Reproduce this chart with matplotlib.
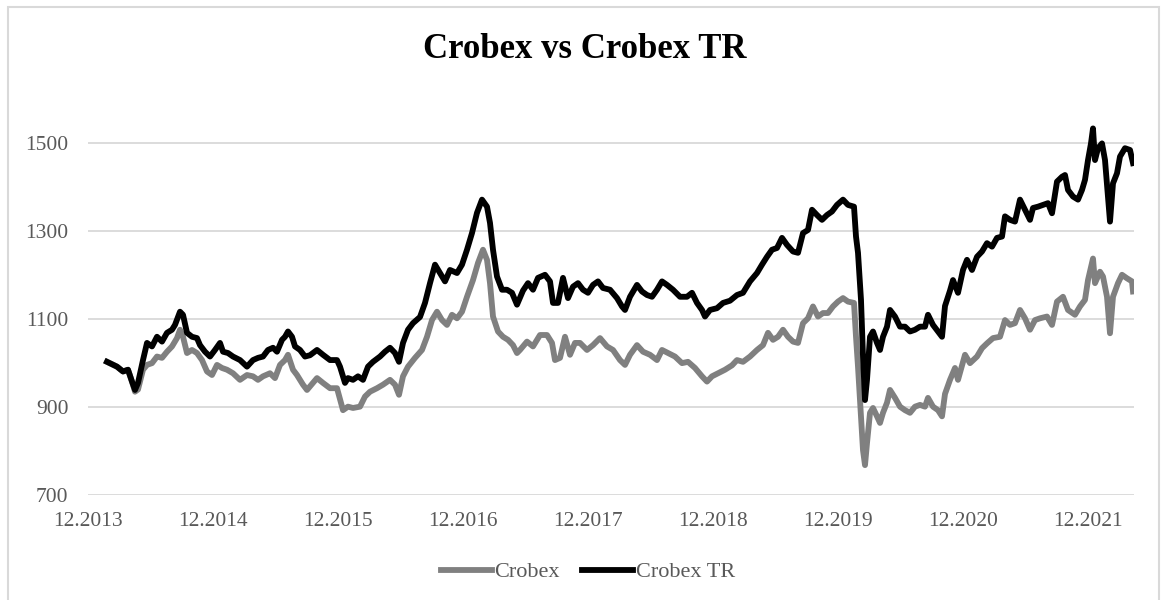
import matplotlib
matplotlib.use("Agg")
import matplotlib.pyplot as plt
from matplotlib.patches import Rectangle

plt.rcParams['font.family'] = ['Liberation Serif', 'DejaVu Serif']

# trading-day index, one label every 250 days
tick_days = [0, 250, 500, 750, 1000, 1250, 1500, 1750, 2000]
tick_labels = ['12.2013', '12.2014', '12.2015', '12.2016', '12.2017',
               '12.2018', '12.2019', '12.2020', '12.2021']

crobex_days = [38, 58, 70, 80, 88, 94, 100, 110, 118, 128, 138, 148, 158, 168, 178, 184, 190, 198, 208, 218,
               228, 238, 248, 258, 268, 278, 290, 304, 318, 330, 340, 350, 364, 374, 384, 394, 400, 410, 418, 430,
               438, 450, 458, 470, 484, 498, 510, 520, 530, 544, 554, 564, 578, 590, 604, 614, 622, 630, 640, 654,
               668, 678, 688, 698, 708, 718, 728, 738, 748, 758, 770, 780, 790, 798, 804, 810, 820, 830, 840, 850,
               858, 864, 878, 890, 904, 918, 928, 934, 944, 954, 964, 974, 984, 998, 1010, 1024, 1038, 1050, 1064, 1074,
               1084, 1098, 1110, 1124, 1138, 1148, 1160, 1174, 1188, 1200, 1214, 1228, 1238, 1248, 1260, 1274, 1288, 1298, 1310, 1324,
               1338, 1350, 1360, 1370, 1380, 1390, 1400, 1410, 1420, 1430, 1440, 1450, 1460, 1470, 1480, 1490, 1500, 1510, 1520, 1532,
               1536, 1540, 1546, 1550, 1554, 1558, 1564, 1570, 1578, 1584, 1590, 1598, 1604, 1614, 1624, 1634, 1644, 1654, 1664, 1674,
               1680, 1690, 1700, 1708, 1714, 1724, 1734, 1740, 1754, 1764, 1778, 1788, 1798, 1810, 1824, 1834, 1844, 1854, 1864, 1874,
               1884, 1894, 1904, 1918, 1928, 1938, 1950, 1960, 1974, 1984, 1994, 2000, 2010, 2014, 2024, 2030, 2038, 2044, 2050, 2060,
               2068, 2078, 2088, 2090]
crobex = [1003, 992, 981, 985, 958, 935, 940, 985, 996, 1000, 1015, 1012, 1026, 1038, 1057, 1076, 1060, 1023, 1030, 1023,
          1007, 981, 973, 996, 989, 985, 977, 962, 973, 970, 962, 970, 977, 966, 996, 1007, 1019, 985, 973, 951,
          939, 955, 966, 955, 943, 943, 893, 901, 898, 901, 924, 935, 943, 951, 962, 951, 928, 970, 992, 1012,
          1030, 1060, 1098, 1117, 1098, 1087, 1110, 1102, 1117, 1151, 1189, 1228, 1258, 1235, 1182, 1106, 1072, 1060, 1053, 1041,
          1023, 1030, 1049, 1038, 1064, 1064, 1046, 1007, 1012, 1060, 1019, 1046, 1046, 1030, 1041, 1057, 1038, 1030, 1007, 996,
          1019, 1041, 1026, 1019, 1007, 1030, 1023, 1015, 1000, 1003, 989, 970, 958, 970, 977, 985, 995, 1007, 1003, 1015,
          1030, 1041, 1069, 1053, 1060, 1076, 1060, 1049, 1046, 1091, 1102, 1129, 1106, 1114, 1114, 1129, 1140, 1148, 1140, 1137,
          1060, 992, 879, 802, 768, 818, 887, 898, 879, 864, 887, 910, 939, 921, 901, 893, 887, 901, 905, 901,
          921, 901, 893, 879, 930, 962, 989, 962, 1019, 1000, 1015, 1034, 1045, 1057, 1060, 1098, 1087, 1091, 1121, 1102,
          1076, 1098, 1102, 1106, 1087, 1140, 1151, 1121, 1110, 1129, 1144, 1189, 1238, 1182, 1208, 1197, 1151, 1068, 1151, 1182,
          1201, 1193, 1186, 1163]

tr_days = [38, 58, 70, 80, 88, 94, 100, 110, 118, 128, 138, 148, 158, 168, 174, 184, 190, 198, 208, 218,
           224, 234, 244, 254, 264, 270, 280, 290, 304, 318, 330, 340, 350, 360, 370, 378, 388, 394, 400, 408,
           414, 424, 434, 444, 458, 470, 484, 498, 504, 514, 520, 530, 540, 550, 560, 570, 584, 594, 604, 614,
           622, 630, 640, 650, 664, 674, 684, 694, 704, 714, 724, 738, 748, 758, 768, 778, 788, 798, 804, 810,
           818, 828, 838, 848, 858, 870, 880, 890, 900, 914, 924, 930, 940, 950, 960, 970, 980, 990, 1000, 1010,
           1020, 1030, 1044, 1058, 1068, 1074, 1084, 1098, 1108, 1118, 1128, 1138, 1148, 1158, 1170, 1184, 1198, 1208, 1218, 1228,
           1234, 1244, 1258, 1270, 1284, 1298, 1310, 1324, 1338, 1348, 1358, 1368, 1378, 1388, 1398, 1410, 1420, 1430, 1440, 1448,
           1458, 1468, 1478, 1488, 1498, 1510, 1520, 1532, 1536, 1540, 1546, 1550, 1554, 1558, 1564, 1570, 1578, 1584, 1590, 1598,
           1604, 1614, 1624, 1634, 1644, 1654, 1664, 1674, 1680, 1690, 1700, 1708, 1714, 1724, 1730, 1740, 1750, 1758, 1768, 1778,
           1788, 1798, 1808, 1818, 1828, 1834, 1844, 1854, 1864, 1874, 1884, 1890, 1900, 1910, 1920, 1928, 1938, 1948, 1954, 1960,
           1970, 1980, 1988, 1994, 2000, 2006, 2010, 2014, 2020, 2028, 2034, 2040, 2044, 2050, 2058, 2064, 2074, 2084, 2090]
crobex_tr = [1003, 992, 981, 985, 958, 939, 955, 1007, 1046, 1038, 1060, 1049, 1069, 1076, 1087, 1117, 1110, 1069, 1060, 1057,
             1041, 1026, 1015, 1030, 1046, 1026, 1023, 1015, 1007, 992, 1007, 1012, 1015, 1030, 1035, 1026, 1053, 1060, 1072, 1060,
             1038, 1030, 1015, 1018, 1030, 1019, 1007, 1007, 992, 955, 966, 962, 970, 962, 992, 1003, 1015, 1026, 1035, 1023,
             1003, 1046, 1076, 1091, 1105, 1137, 1182, 1224, 1205, 1186, 1212, 1205, 1224, 1258, 1296, 1342, 1372, 1356, 1319, 1258,
             1197, 1167, 1167, 1160, 1133, 1165, 1182, 1167, 1194, 1201, 1186, 1137, 1137, 1194, 1148, 1174, 1182, 1167, 1160, 1178,
             1186, 1171, 1167, 1148, 1129, 1121, 1151, 1178, 1163, 1155, 1151, 1167, 1186, 1178, 1167, 1151, 1151, 1160, 1137, 1121,
             1106, 1121, 1125, 1137, 1142, 1155, 1160, 1186, 1205, 1224, 1242, 1258, 1262, 1285, 1269, 1254, 1251, 1296, 1303, 1349,
             1337, 1326, 1337, 1345, 1360, 1372, 1360, 1356, 1288, 1251, 1144, 1015, 916, 962, 1060, 1072, 1046, 1030, 1060, 1083,
             1121, 1106, 1083, 1083, 1072, 1076, 1083, 1083, 1110, 1087, 1072, 1060, 1130, 1165, 1189, 1160, 1212, 1235, 1212, 1242,
             1254, 1273, 1265, 1285, 1288, 1334, 1326, 1322, 1372, 1349, 1326, 1353, 1356, 1360, 1364, 1341, 1413, 1424, 1428, 1394,
             1379, 1372, 1394, 1417, 1462, 1500, 1534, 1462, 1489, 1500, 1462, 1379, 1322, 1409, 1432, 1470, 1489, 1485, 1455]

W, H = 1161, 600
fig = plt.figure(figsize=(W / 100, H / 100), dpi=100)
ax = fig.add_axes([88 / W, 105 / H, (1134 - 88) / W, 378 / H])

ax.plot(crobex_days, crobex, color='#808080', lw=4.2, solid_joinstyle='round', label='Crobex')
ax.plot(tr_days, crobex_tr, color='#000000', lw=4.2, solid_joinstyle='round', label='Crobex TR')

ax.set_xlim(0, 2092)
ax.set_ylim(700, 1560)
ax.set_yticks([700, 900, 1100, 1300, 1500])
ax.set_xticks(tick_days)
ax.set_xticklabels(tick_labels)
ax.grid(axis='y', color='#d9d9d9', lw=1.3)
ax.set_axisbelow(True)
for s in ax.spines.values():
    s.set_visible(False)
ax.tick_params(axis='both', length=0, labelsize=15.5, labelcolor='#595959')
ax.tick_params(axis='y', pad=14)
ax.tick_params(axis='x', pad=12)

fig.text(585 / W, 1 - 50 / H, 'Crobex vs Crobex TR', ha='center', va='center',
         fontsize=25, fontweight='bold', color='black')

fig.legend(loc='center', bbox_to_anchor=(588 / W, 1 - 572 / H), ncol=2, frameon=False,
           fontsize=16, labelcolor='#595959', handlelength=2.3, handletextpad=0.1,
           columnspacing=1.0)

fig.add_artist(Rectangle((8 / W, -0.05), (1159 - 8) / W, 1.05 - 7 / H, transform=fig.transFigure,
                         fill=False, edgecolor='#d9d9d9', lw=1.5))

fig.savefig('out.png', dpi=100)
